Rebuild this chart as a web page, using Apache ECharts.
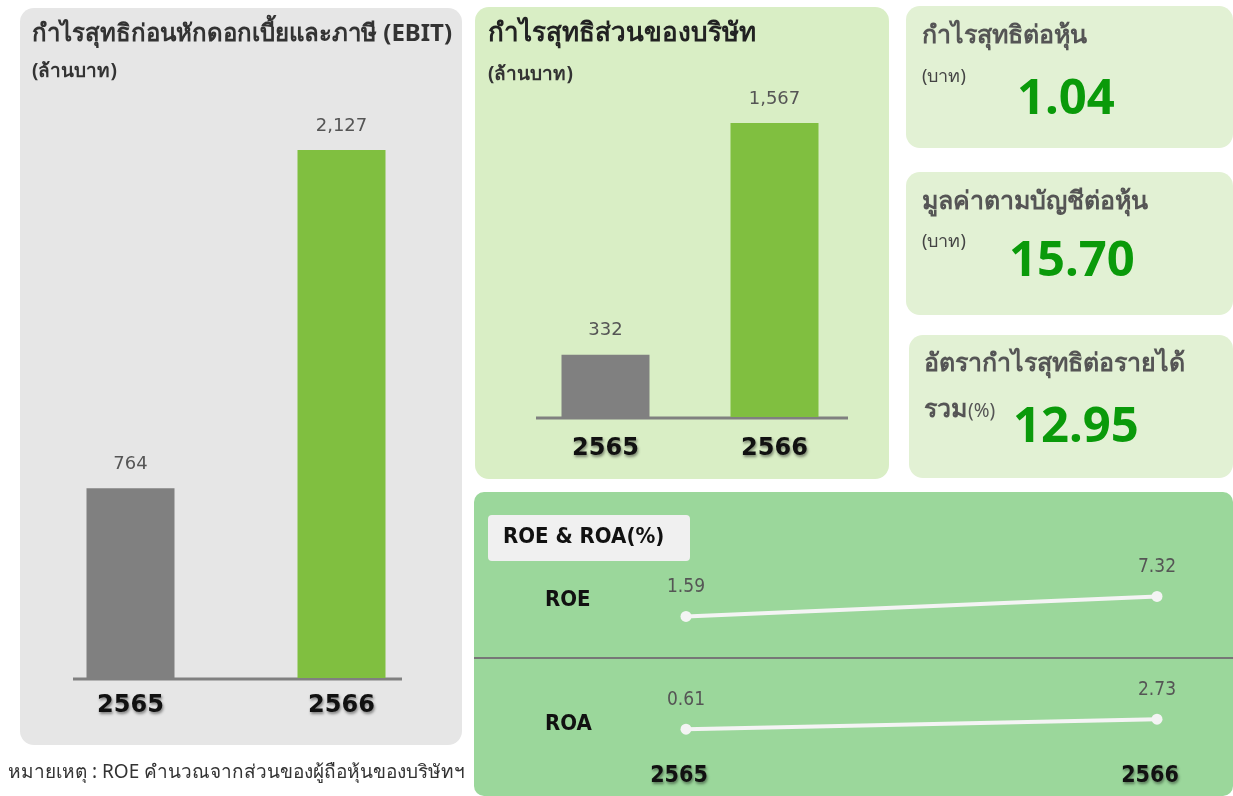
<!DOCTYPE html>
<html>
<head>
<meta charset="utf-8">
<script src="https://cdn.jsdelivr.net/npm/echarts@6/dist/echarts.min.js"></script>
<style>
  html, body { margin: 0; padding: 0; background: #fff; }
  #main { width: 1233px; height: 796px; }
</style>
</head>
<body>
<div id="main"></div>
<script>
// data
var years = ['2565', '2566'];
var ebit = [764, 2127];
var netProfit = [332, 1567];
var roe = [1.59, 7.32];
var roa = [0.61, 2.73];
var eps = '1.04';
var bookValue = '15.70';
var netMargin = '12.95';
var barColors = ['#808080', '#80bf40'];

var thai = '"Noto Sans", "DejaVu Sans", sans-serif';
var num = '"DejaVu Sans", sans-serif';
var cond = '"DejaVu Sans Condensed", "DejaVu Sans", sans-serif';

function barData(values) {
  return values.map(function (v, i) {
    return { value: v, itemStyle: { color: barColors[i] } };
  });
}

function fmt(p) {
  return Number(p.value).toLocaleString('en-US');
}

var yearShadow = {
  textShadowColor: 'rgba(0,0,0,0.45)',
  textShadowBlur: 3,
  textShadowOffsetX: 1,
  textShadowOffsetY: 2
};

function txt(x, y, text, font, fill) {
  return { type: 'text', x: x, y: y, style: { text: text, font: font, fill: fill, verticalAlign: 'middle' } };
}
function box(x, y, w, h, fill, r) {
  return { type: 'rect', z: -10, shape: { x: x, y: y, width: w, height: h, r: r }, style: { fill: fill } };
}
function hline(x1, x2, y, color, w) {
  return { type: 'line', z: -5, shape: { x1: x1, y1: y, x2: x2, y2: y }, style: { stroke: color, lineWidth: w } };
}

var graphics = [
  // panels
  box(20, 8, 442, 737, '#e6e6e6', 14),
  box(475, 7, 414, 472, '#d9eec5', 14),
  box(906, 6, 327, 142, '#e2f1d4', 14),
  box(906, 172, 327, 143, '#e2f1d4', 14),
  box(909, 335, 324, 143, '#e2f1d4', 14),
  box(474, 492, 759, 304, '#9bd79b', 10),
  box(488, 515, 202, 46, '#f0f0f0', 4),
  // baselines and divider
  hline(73, 402, 679, '#808080', 3),
  hline(536, 848, 418, '#808080', 3),
  hline(474, 1233, 658, '#777777', 2),
  // panel titles
  txt(32, 34, 'กำไรสุทธิก่อนหักดอกเบี้ยและภาษี (EBIT)', 'bold 24px ' + thai, '#333'),
  txt(32, 72, '(ล้านบาท)', 'bold 19px ' + thai, '#333'),
  txt(488, 34, 'กำไรสุทธิส่วนของบริษัท', 'bold 26px ' + thai, '#222'),
  txt(488, 75, '(ล้านบาท)', 'bold 19px ' + thai, '#333'),
  // cards
  txt(922, 36, 'กำไรสุทธิต่อหุ้น', 'bold 25px ' + thai, '#555'),
  txt(922, 77, '(บาท)', '18px ' + thai, '#444'),
  txt(1017, 100, eps, 'bold 49px ' + thai, '#0a9a0a'),
  txt(922, 202, 'มูลค่าตามบัญชีต่อหุ้น', 'bold 25px ' + thai, '#555'),
  txt(922, 242, '(บาท)', '18px ' + thai, '#444'),
  txt(1009, 262, bookValue, 'bold 49px ' + thai, '#0a9a0a'),
  txt(924, 364, 'อัตรากำไรสุทธิต่อรายได้', 'bold 25px ' + thai, '#555'),
  txt(924, 410, 'รวม', 'bold 25px ' + thai, '#555'),
  txt(968, 412, '(%)', '19px ' + thai, '#555'),
  txt(1013, 428, netMargin, 'bold 49px ' + thai, '#0a9a0a'),
  // ROE / ROA panel
  txt(503, 537, 'ROE & ROA(%)', 'bold 22px ' + cond, '#111'),
  txt(545, 600, 'ROE', 'bold 22px ' + cond, '#111'),
  txt(545, 724, 'ROA', 'bold 22px ' + cond, '#111'),
  // footnote
  txt(8, 773, 'หมายเหตุ : ROE คำนวณจากส่วนของผู้ถือหุ้นของบริษัทฯ', '19px ' + thai, '#333')
];

var chart = echarts.init(document.getElementById('main'));

chart.setOption({
  animation: false,
  graphic: graphics,
  grid: [
    { left: 25, top: 150, width: 422, height: 528 },
    { left: 521, top: 123, width: 338, height: 294 },
    { left: 686, top: 552, width: 471, height: 70 },
    { left: 686, top: 685, width: 471, height: 47 }
  ],
  xAxis: [
    { gridIndex: 0, type: 'category', data: years,
      axisLine: { show: false }, axisTick: { show: false },
      axisLabel: Object.assign({ margin: 16, color: '#111', fontWeight: 'bold', fontSize: 24, fontFamily: num }, yearShadow) },
    { gridIndex: 1, type: 'category', data: years,
      axisLine: { show: false }, axisTick: { show: false },
      axisLabel: Object.assign({ margin: 20, color: '#111', fontWeight: 'bold', fontSize: 24, fontFamily: num }, yearShadow) },
    { gridIndex: 2, type: 'category', data: years, boundaryGap: false, show: false },
    { gridIndex: 3, type: 'category', data: years, boundaryGap: false,
      axisLine: { show: false }, axisTick: { show: false },
      axisLabel: Object.assign({ margin: 33, color: '#111', fontWeight: 'bold', fontSize: 23, fontFamily: cond,
        padding: [0, 14, 0, 0] }, yearShadow) }
  ],
  yAxis: [
    { gridIndex: 0, type: 'value', min: 0, max: 2127, show: false },
    { gridIndex: 1, type: 'value', min: 0, max: 1567, show: false },
    { gridIndex: 2, type: 'value', min: 0, max: 20, show: false },
    { gridIndex: 3, type: 'value', min: 0, max: 10, show: false }
  ],
  series: [
    { type: 'bar', xAxisIndex: 0, yAxisIndex: 0, barWidth: 88, data: barData(ebit),
      label: { show: true, position: 'top', distance: 15, formatter: fmt, color: '#555', fontSize: 18, fontFamily: num } },
    { type: 'bar', xAxisIndex: 1, yAxisIndex: 1, barWidth: 88, data: barData(netProfit),
      label: { show: true, position: 'top', distance: 15, formatter: fmt, color: '#555', fontSize: 18, fontFamily: num } },
    { type: 'line', xAxisIndex: 2, yAxisIndex: 2, data: roe, symbol: 'circle', symbolSize: 11,
      lineStyle: { color: '#f4f4f4', width: 4 }, itemStyle: { color: '#f4f4f4' },
      label: { show: true, position: 'top', distance: 14, color: '#555', fontSize: 19, fontFamily: cond } },
    { type: 'line', xAxisIndex: 3, yAxisIndex: 3, data: roa, symbol: 'circle', symbolSize: 11,
      lineStyle: { color: '#f4f4f4', width: 4 }, itemStyle: { color: '#f4f4f4' },
      label: { show: true, position: 'top', distance: 14, color: '#555', fontSize: 19, fontFamily: cond } }
  ]
});
</script>
</body>
</html>
